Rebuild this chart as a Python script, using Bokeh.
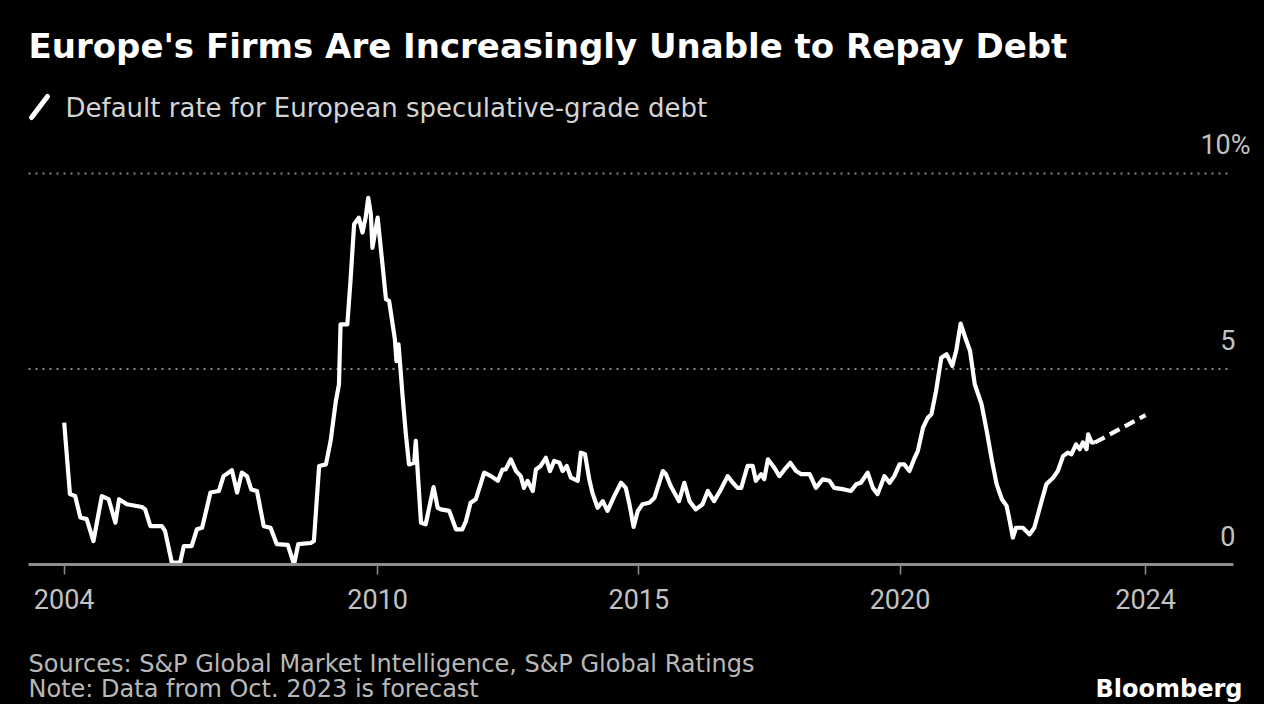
from bokeh.plotting import figure
from bokeh.layouts import column
from bokeh.models import Range1d, FixedTicker, Label, Arrow
from bokeh.embed import file_html
from bokeh.resources import INLINE

# ---- data (decimal years, default rate %) ----
dates = [2004.00, 2004.11, 2004.21, 2004.31, 2004.43, 2004.56, 2004.72, 2004.85, 2004.98, 2005.05,
         2005.20, 2005.49, 2005.55, 2005.65, 2005.87, 2005.93, 2006.06, 2006.22, 2006.29, 2006.44,
         2006.54, 2006.64, 2006.80, 2006.96, 2007.05, 2007.21, 2007.31, 2007.40, 2007.50, 2007.58,
         2007.69, 2007.82, 2007.95, 2008.07, 2008.28, 2008.40, 2008.48, 2008.72, 2008.78, 2008.88,
         2009.01, 2009.10, 2009.20, 2009.26, 2009.29, 2009.42, 2009.48, 2009.55, 2009.64, 2009.71,
         2009.77, 2009.82, 2009.87, 2009.90, 2010.00, 2010.06, 2010.16, 2010.22, 2010.33, 2010.36,
         2010.40, 2010.48, 2010.54, 2010.60, 2010.70, 2010.73, 2010.77, 2010.83, 2010.92, 2011.07,
         2011.15, 2011.21, 2011.37, 2011.50, 2011.62, 2011.69, 2011.78, 2011.88, 2012.04, 2012.17,
         2012.30, 2012.39, 2012.45, 2012.55, 2012.65, 2012.74, 2012.80, 2012.87, 2012.97, 2013.03,
         2013.12, 2013.22, 2013.30, 2013.38, 2013.48, 2013.54, 2013.62, 2013.70, 2013.83, 2013.89,
         2013.97, 2014.05, 2014.11, 2014.21, 2014.31, 2014.40, 2014.53, 2014.66, 2014.75, 2014.82,
         2014.90, 2014.98, 2015.07, 2015.20, 2015.30, 2015.46, 2015.52, 2015.61, 2015.77, 2015.87,
         2015.97, 2016.09, 2016.22, 2016.32, 2016.44, 2016.57, 2016.70, 2016.80, 2016.89, 2016.96,
         2017.08, 2017.18, 2017.24, 2017.34, 2017.40, 2017.47, 2017.59, 2017.69, 2017.79, 2017.90,
         2018.01, 2018.11, 2018.27, 2018.39, 2018.52, 2018.65, 2018.74, 2018.93, 2019.06, 2019.16,
         2019.25, 2019.38, 2019.48, 2019.57, 2019.70, 2019.80, 2019.89, 2019.99, 2020.08, 2020.18,
         2020.28, 2020.34, 2020.44, 2020.53, 2020.60, 2020.69, 2020.79, 2020.89, 2021.00, 2021.08,
         2021.16, 2021.25, 2021.34, 2021.43, 2021.56, 2021.66, 2021.76, 2021.85, 2021.95, 2022.04,
         2022.10, 2022.16, 2022.22, 2022.35, 2022.48, 2022.57, 2022.71, 2022.80, 2022.93, 2023.02,
         2023.12, 2023.21, 2023.28, 2023.37, 2023.44, 2023.50, 2023.57, 2023.60, 2023.67, 2023.73]
rate = [3.63, 1.80, 1.75, 1.20, 1.16, 0.60, 1.75, 1.67, 1.07, 1.67,
        1.54, 1.47, 1.41, 0.98, 0.98, 0.86, 0.05, 0.05, 0.47, 0.47,
        0.90, 0.94, 1.84, 1.88, 2.26, 2.41, 1.84, 2.35, 2.26, 1.92,
        1.88, 0.98, 0.94, 0.52, 0.50, 0.00, 0.52, 0.55, 0.60, 2.52,
        2.56, 3.16, 4.18, 4.61, 6.14, 6.14, 7.25, 8.70, 8.87, 8.49,
        8.87, 9.38, 8.96, 8.10, 8.87, 8.10, 6.78, 6.74, 5.76, 5.20,
        5.63, 4.27, 3.33, 2.56, 2.60, 3.16, 2.31, 1.07, 1.03, 1.98,
        1.45, 1.41, 1.37, 0.90, 0.90, 1.11, 1.58, 1.67, 2.35, 2.26,
        2.14, 2.43, 2.43, 2.69, 2.39, 2.26, 1.96, 2.14, 1.88, 2.43,
        2.52, 2.73, 2.39, 2.65, 2.60, 2.39, 2.52, 2.22, 2.14, 2.86,
        2.82, 2.18, 1.84, 1.45, 1.62, 1.37, 1.75, 2.09, 1.96, 1.54,
        0.96, 1.37, 1.54, 1.58, 1.71, 2.39, 2.31, 2.01, 1.62, 2.09,
        1.62, 1.41, 1.54, 1.88, 1.62, 1.92, 2.26, 2.09, 1.96, 1.96,
        2.52, 2.52, 2.14, 2.31, 2.18, 2.69, 2.48, 2.26, 2.43, 2.60,
        2.39, 2.31, 2.31, 1.96, 2.18, 2.14, 1.96, 1.92, 1.88, 2.05,
        2.09, 2.35, 1.96, 1.80, 2.26, 2.09, 2.26, 2.56, 2.56, 2.39,
        2.73, 2.90, 3.50, 3.75, 3.84, 4.44, 5.29, 5.38, 5.08, 5.50,
        6.16, 5.80, 5.46, 4.61, 4.10, 3.41, 2.65, 2.05, 1.67, 1.50,
        1.11, 0.69, 0.94, 0.94, 0.77, 0.94, 1.62, 2.05, 2.22, 2.39,
        2.77, 2.86, 2.82, 3.07, 2.95, 3.12, 2.95, 3.33, 3.12, 3.12]
forecast_dates = [2023.73, 2024.70]
forecast_rate = [3.12, 3.82]

x_tick_values = [2004, 2010, 2015, 2020, 2024.7]
x_tick_labels = ["2004", "2010", "2015", "2020", "2024"]
y_tick_values = [0, 5, 10]
y_tick_labels = ["0", "5", "10%"]

title_text = "Europe's Firms Are Increasingly Unable to Repay Debt"
legend_text = "Default rate for European speculative-grade debt"
source_text = "Sources: S&P Global Market Intelligence, S&P Global Ratings"
note_text = "Note: Data from Oct. 2023 is forecast"
brand_text = "Bloomberg"

# ---- layout (pixel positions measured on the picture) ----
W = 1264
H_MAIN, H_FOOT = 640, 64
AXIS_Y = 564            # pixel row of the zero line (frame bottom)
PX_PER_YEAR = 52.24
PX_PER_UNIT = 39.1
X0 = 2004 - 63.7 / PX_PER_YEAR
X1 = X0 + W / PX_PER_YEAR
Y0, Y1 = 0.0, AXIS_Y / PX_PER_UNIT
NUM_FONT = "Roboto"
TXT_FONT = "DejaVu Sans"
GREY_TXT = "#c2c2c2"

def xd(px):
    return X0 + px / PX_PER_YEAR

def yd(py):
    return (AXIS_Y - py) / PX_PER_UNIT

p = figure(width=W, height=H_MAIN, x_range=Range1d(X0, X1), y_range=Range1d(Y0, Y1),
           output_backend="svg", toolbar_location=None, y_axis_location=None,
           background_fill_color="black", border_fill_color="black",
           min_border_left=0, min_border_right=0, min_border_top=0,
           min_border_bottom=H_MAIN - AXIS_Y)
p.outline_line_color = None
p.xgrid.visible = False
p.ygrid.visible = False

# dotted gridlines at 5 and 10, ending where the axis line ends
grid_vals = [v for v in y_tick_values if v != 0]
p.segment(x0=[xd(28)] * len(grid_vals), y0=grid_vals, x1=[xd(1232)] * len(grid_vals),
          y1=grid_vals, line_color="#8a8a8a", line_width=2, line_dash="2 5")

# x axis
ax = p.xaxis[0]
ax.bounds = (xd(28), xd(1233))
ax.ticker = FixedTicker(ticks=x_tick_values)
ax.major_label_overrides = dict(zip(x_tick_values, x_tick_labels))
ax.axis_line_color = "#8c8c8c"
ax.axis_line_width = 3
ax.major_tick_line_color = "#8c8c8c"
ax.major_tick_line_width = 1.5
ax.major_tick_in = 0
ax.major_tick_out = 10
ax.minor_tick_line_color = None
ax.major_label_text_color = GREY_TXT
ax.major_label_text_font = NUM_FONT
ax.major_label_text_font_size = "27px"
ax.major_label_standoff = 14

# series
p.line(dates, rate, line_color="white", line_width=4.2, line_join="round")
p.line(forecast_dates, forecast_rate, line_color="white", line_width=4.2, line_dash="11 6")

# value labels above gridlines on the right (anchor = centre of the digits)
label_right = {"0": 1235, "5": 1235, "10%": 1250}
for v, t in zip(y_tick_values, y_tick_labels):
    p.add_layout(Label(x=xd(label_right[t]), y=v + 29 / PX_PER_UNIT, text=t,
                       text_align="right", text_baseline="middle",
                       text_color=GREY_TXT, text_font=NUM_FONT, text_font_size="27px"))

# title and legend
p.add_layout(Label(x=xd(28), y=yd(45), text=title_text, text_font=TXT_FONT,
                   text_font_size="34px", text_font_style="bold", text_color="white",
                   text_baseline="middle"))
p.add_layout(Arrow(end=None, x_start=xd(31), y_start=yd(117), x_end=xd(47), y_end=yd(96),
                   line_color="white", line_width=5, line_cap="round"))
p.add_layout(Label(x=xd(65), y=yd(107), text=legend_text, text_font=TXT_FONT,
                   text_font_size="26px", text_color="#d4d4d4", text_baseline="middle"))

# footer
f = figure(width=W, height=H_FOOT, x_range=Range1d(0, W), y_range=Range1d(0, H_FOOT),
           output_backend="svg", toolbar_location=None, x_axis_location=None,
           y_axis_location=None, background_fill_color="black", border_fill_color="black",
           min_border_left=0, min_border_right=0, min_border_top=0, min_border_bottom=0)
f.outline_line_color = None
f.xgrid.visible = False
f.ygrid.visible = False
FOOT_TOP = H_MAIN

def fy(py):
    return FOOT_TOP + H_FOOT - py

f.add_layout(Label(x=28, y=fy(663), text=source_text, text_font=TXT_FONT,
                   text_font_size="24px", text_color="#b8b8b8", text_baseline="middle"))
f.add_layout(Label(x=28, y=fy(688), text=note_text, text_font=TXT_FONT,
                   text_font_size="24px", text_color="#b8b8b8", text_baseline="middle"))
f.add_layout(Label(x=1242, y=fy(688), text=brand_text, text_font=TXT_FONT,
                   text_font_size="24px", text_font_style="bold", text_color="white",
                   text_align="right", text_baseline="middle"))

layout = column(p, f, spacing=0, styles={"background-color": "black"})
open("out.html", "w").write(file_html(layout, INLINE))
